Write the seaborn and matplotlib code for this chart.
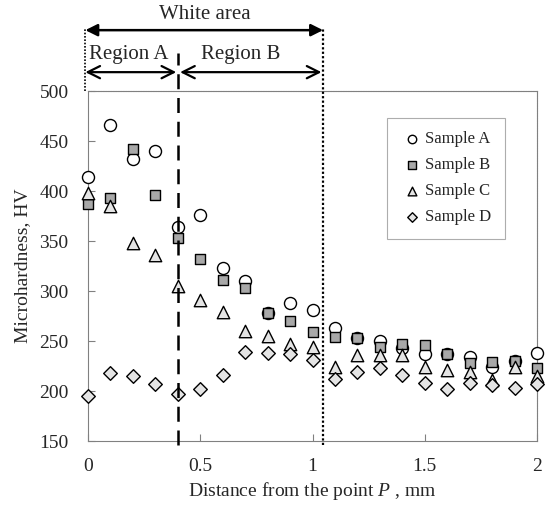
import numpy as np
import pandas as pd
import matplotlib
matplotlib.use("Agg")
import matplotlib.pyplot as plt
import matplotlib.transforms as mtransforms
import seaborn as sns

# valores
distancia = [0.0, 0.1, 0.2, 0.3, 0.4, 0.5, 0.6, 0.7, 0.8, 0.9, 1.0,
             1.1, 1.2, 1.3, 1.4, 1.5, 1.6, 1.7, 1.8, 1.9, 2.0]
sample_a = [414, 466, 432, 440, 364, 376, 323, 310, 278, 288, 281,
            263, 253, 250, 243, 237, 237, 234, 224, 230, 238]
sample_b = [387, 393, 442, 396, 353, 332, 311, 303, 278, 270, 259,
            254, 253, 244, 247, 246, 237, 228, 229, 230, 223]
sample_c = [398, 385, 348, 336, 305, 291, 279, 260, 255, 247, 244,
            224, 236, 236, 236, 224, 221, 219, 211, 224, 215]
sample_d = [195, 218, 215, 207, 197, 202, 216, 239, 238, 237, 231,
            212, 219, 223, 216, 208, 202, 208, 206, 203, 207]

muestras = ["Sample A", "Sample B", "Sample C", "Sample D"]
x_ticks = [0, 0.5, 1, 1.5, 2]
x_ticklabels = ["0", "0.5", "1", "1.5", "2"]
y_ticks = [150, 200, 250, 300, 350, 400, 450, 500]

df = pd.DataFrame({
    "Distancia": distancia * 4,
    "HV": sample_a + sample_b + sample_c + sample_d,
    "Muestra": sum([[m] * len(distancia) for m in muestras], []),
})

sns.set_style("ticks")
plt.rcParams["font.family"] = ["Liberation Serif", "DejaVu Serif"]
plt.rcParams["mathtext.fontset"] = "custom"
plt.rcParams["mathtext.it"] = "Liberation Serif:italic"
plt.rcParams["mathtext.rm"] = "Liberation Serif"

fig = plt.figure(figsize=(5.45, 5.2), dpi=100)
ax = fig.add_axes([0.1615, 0.1519, 0.8239, 0.673])

marcadores = {"Sample A": "o", "Sample B": "s", "Sample C": "^", "Sample D": "D"}
colores = {"Sample A": "white", "Sample B": "#a8a8a8",
           "Sample C": "#e4e4e4", "Sample D": "#e4e4e4"}
tamanios = {"Sample A": 75, "Sample B": 55, "Sample C": 80, "Sample D": 48}

for m in muestras:
    sub = df[df["Muestra"] == m]
    sns.scatterplot(data=sub, x="Distancia", y="HV", marker=marcadores[m],
                    color=colores[m], edgecolor="black", linewidth=1.0,
                    s=tamanios[m], label=m, ax=ax, clip_on=False, zorder=3)

ax.set_xlim(0, 2)
ax.set_ylim(150, 500)
ax.set_xticks(x_ticks)
ax.set_xticklabels(x_ticklabels)
ax.set_yticks(y_ticks)
ax.tick_params(direction="in", length=5, color="#808080", labelsize=14)
ax.tick_params(axis="y", pad=14)
ax.tick_params(axis="x", pad=12)
for s in ax.spines.values():
    s.set_color("#808080")
    s.set_linewidth(0.8)
ax.spines["top"].set_linestyle((0, (1, 0.5)))
ax.spines["right"].set_linestyle((0, (1, 0.5)))

ax.set_xlabel("Distance from the point $P$ , mm", fontsize=14, labelpad=4)
ax.set_ylabel("Microhardness, HV", fontsize=14, labelpad=6)

leg = ax.legend(loc="upper left", bbox_to_anchor=(0.666, 0.923), fontsize=12,
                frameon=True, fancybox=False, labelspacing=0.6,
                handletextpad=0.1, borderpad=0.8, handlelength=1.4,
                markerscale=0.7, borderaxespad=0)
leg.get_frame().set_edgecolor("#999999")
leg.get_frame().set_linewidth(0.8)

# lineas y flechas de las regiones (x en datos, y en fraccion de ejes)
trans = mtransforms.blended_transform_factory(ax.transData, ax.transAxes)
x_fin = 1.047
ax.plot([0.4, 0.4], [-0.01, 1.11], transform=trans, color="black",
        linestyle=(0, (6, 3.5)), linewidth=1.8, clip_on=False, zorder=4)
ax.plot([x_fin, x_fin], [-0.012, 1.18], transform=trans, color="black",
        linestyle=(0, (1, 1)), linewidth=1.6, clip_on=False, zorder=4)
ax.plot([-0.012, -0.012], [1.0, 1.18], transform=trans, color="black",
        linestyle=(0, (1, 1)), linewidth=1.2, clip_on=False, zorder=4)

ax.annotate("", xy=(x_fin, 1.174), xytext=(-0.012, 1.174),
            xycoords=trans, textcoords=trans,
            arrowprops=dict(arrowstyle="<|-|>", color="black", lw=1.8,
                            mutation_scale=18, shrinkA=0, shrinkB=0))
ax.text(0.52, 1.22, "White area", transform=trans, ha="center", va="center",
        fontsize=15)

ax.annotate("", xy=(0.393, 1.054), xytext=(-0.012, 1.054),
            xycoords=trans, textcoords=trans,
            arrowprops=dict(arrowstyle="<->", color="black", lw=1.6,
                            mutation_scale=22, shrinkA=0, shrinkB=0))
ax.annotate("", xy=(1.04, 1.054), xytext=(0.41, 1.054),
            xycoords=trans, textcoords=trans,
            arrowprops=dict(arrowstyle="<->", color="black", lw=1.6,
                            mutation_scale=22, shrinkA=0, shrinkB=0))
ax.text(0.18, 1.105, "Region A", transform=trans, ha="center", va="center",
        fontsize=15)
ax.text(0.68, 1.105, "Region B", transform=trans, ha="center", va="center",
        fontsize=15)

plt.savefig("out.png", dpi=100)
plt.close()
